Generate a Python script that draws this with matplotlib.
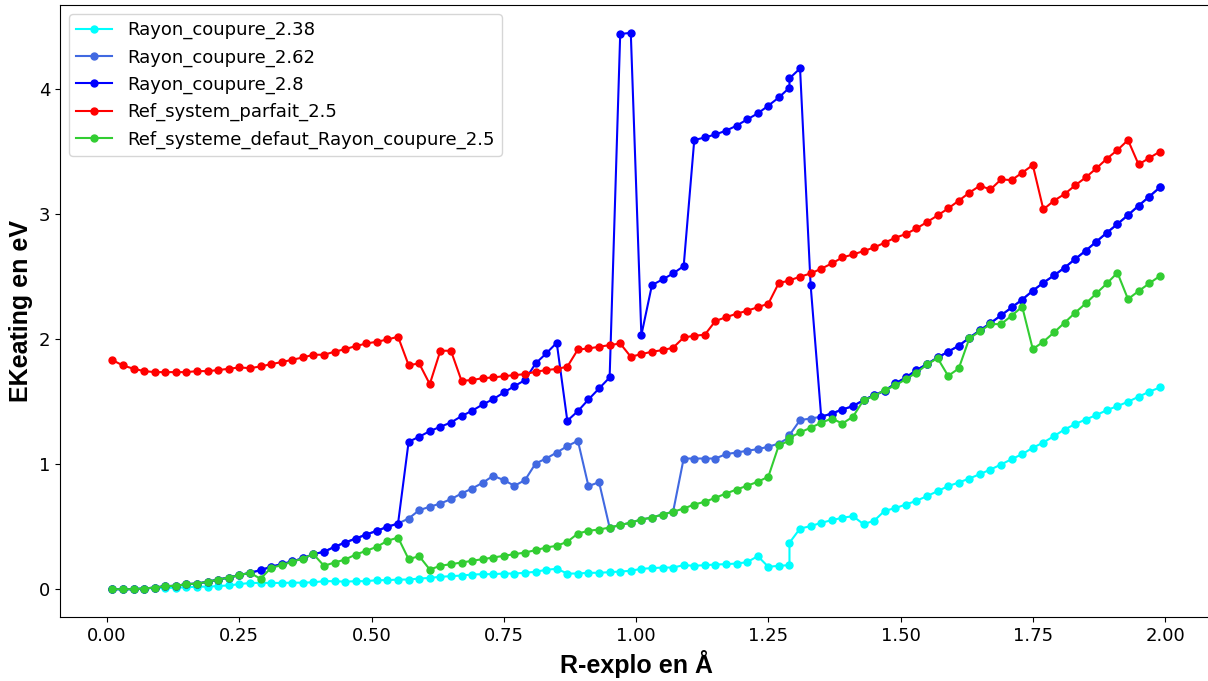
import matplotlib
matplotlib.use("Agg")
import matplotlib.pyplot as plt
import numpy as np

### Data
# R-explo grid (step 0.02, the point at 1.29 appears twice in the source)
r_explo = np.insert(np.round(np.arange(0.01, 2.0, 0.02), 2), 65, 1.29)

rayon_238 = [
    0.0, 0.0, 0.0, 0.005, 0.01, 0.01, 0.012, 0.015, 0.02, 0.02,
    0.025, 0.03, 0.04, 0.05, 0.05, 0.05, 0.05, 0.052, 0.052, 0.055,
    0.064, 0.064, 0.06, 0.064, 0.064, 0.072, 0.072, 0.077, 0.077, 0.085,
    0.09, 0.099, 0.104, 0.109, 0.117, 0.12, 0.12, 0.125, 0.125, 0.131,
    0.139, 0.155, 0.163, 0.125, 0.125, 0.131, 0.131, 0.136, 0.141, 0.147,
    0.163, 0.168, 0.173, 0.173, 0.192, 0.187, 0.192, 0.197, 0.2, 0.205,
    0.216, 0.264, 0.179, 0.187, 0.192,
    0.371,
    0.485, 0.504, 0.531, 0.552, 0.571,
    0.584, 0.52, 0.547, 0.627, 0.648, 0.677, 0.707, 0.744, 0.784, 0.824,
    0.853, 0.885, 0.92, 0.957, 0.997, 1.04, 1.08, 1.131, 1.173, 1.224,
    1.277, 1.32, 1.357, 1.392, 1.432, 1.464, 1.499, 1.539, 1.579, 1.613,
]

rayon_262 = [
    0.0, 0.0, 0.0, 0.005, 0.013, 0.024, 0.027, 0.04, 0.045, 0.059,
    0.077, 0.093, 0.112, 0.131, 0.152, 0.179, 0.2, 0.222, 0.247, 0.28,
    0.299, 0.339, 0.373, 0.405, 0.437, 0.467, 0.499, 0.525, 0.565, 0.632,
    0.659, 0.685, 0.72, 0.765, 0.805, 0.851, 0.907, 0.872, 0.827, 0.872,
    1.005, 1.045, 1.093, 1.144, 1.187, 0.824, 0.856, 0.493, 0.512, 0.533,
    0.557, 0.573, 0.597, 0.619, 1.045, 1.045, 1.045, 1.045, 1.08, 1.093,
    1.107, 1.12, 1.139, 1.165, 1.215,
    1.232,
    1.352, 1.365, 1.379, 1.405, 1.437,
    1.464, 1.512, 1.552, 1.587, 1.645, 1.693, 1.752, 1.8, 1.853, 1.899,
    1.947, 2.01, 2.07, 2.128, 2.19, 2.253, 2.316, 2.387, 2.451, 2.509,
    2.571, 2.64, 2.707, 2.779, 2.851, 2.92, 2.992, 3.067, 3.139, 3.213,
]

rayon_280 = [
    0.0, 0.0, 0.0, 0.005, 0.013, 0.024, 0.027, 0.04, 0.045, 0.059,
    0.077, 0.093, 0.112, 0.131, 0.152, 0.179, 0.2, 0.222, 0.247, 0.28,
    0.299, 0.339, 0.373, 0.405, 0.437, 0.467, 0.499, 0.525, 1.179, 1.219,
    1.264, 1.299, 1.333, 1.384, 1.427, 1.477, 1.52, 1.573, 1.624, 1.672,
    1.805, 1.885, 1.971, 1.347, 1.424, 1.517, 1.605, 1.693, 4.44, 4.45,
    2.032, 2.432, 2.477, 2.525, 2.584, 3.592, 3.613, 3.637, 3.667, 3.707,
    3.757, 3.805, 3.867, 3.933, 4.011,
    4.085,
    4.165, 2.432, 1.379, 1.405, 1.437,
    1.464, 1.512, 1.552, 1.587, 1.645, 1.693, 1.752, 1.8, 1.853, 1.899,
    1.947, 2.01, 2.07, 2.128, 2.19, 2.253, 2.316, 2.387, 2.451, 2.509,
    2.571, 2.64, 2.707, 2.779, 2.851, 2.92, 2.992, 3.067, 3.139, 3.213,
]

ref_parfait = [
    1.832, 1.789, 1.763, 1.744, 1.736, 1.736, 1.736, 1.736, 1.744, 1.744,
    1.752, 1.763, 1.773, 1.768, 1.781, 1.8, 1.816, 1.835, 1.853, 1.875,
    1.875, 1.899, 1.92, 1.944, 1.965, 1.979, 1.997, 2.019, 1.792, 1.805,
    1.64, 1.907, 1.907, 1.667, 1.672, 1.688, 1.693, 1.704, 1.712, 1.72,
    1.739, 1.752, 1.762, 1.779, 1.917, 1.925, 1.939, 1.952, 1.965, 1.859,
    1.88, 1.899, 1.912, 1.931, 2.013, 2.027, 2.035, 2.145, 2.175, 2.203,
    2.227, 2.255, 2.283, 2.45, 2.467,
    2.47,
    2.499, 2.525, 2.563, 2.605, 2.653,
    2.677, 2.704, 2.733, 2.771, 2.811, 2.84, 2.885, 2.936, 2.989, 3.045,
    3.107, 3.171, 3.227, 3.197, 3.277, 3.272, 3.331, 3.392, 3.037, 3.107,
    3.16, 3.229, 3.293, 3.365, 3.443, 3.512, 3.592, 3.397, 3.448, 3.499,
]

ref_defaut = [
    0.0, 0.0, 0.0, 0.005, 0.013, 0.024, 0.027, 0.04, 0.045, 0.059,
    0.077, 0.093, 0.112, 0.131, 0.083, 0.171, 0.192, 0.219, 0.245, 0.28,
    0.187, 0.213, 0.237, 0.277, 0.307, 0.339, 0.387, 0.413, 0.24, 0.264,
    0.157, 0.187, 0.2, 0.213, 0.227, 0.24, 0.253, 0.267, 0.28, 0.293,
    0.312, 0.333, 0.347, 0.379, 0.445, 0.467, 0.477, 0.493, 0.512, 0.533,
    0.557, 0.573, 0.597, 0.619, 0.645, 0.677, 0.699, 0.731, 0.765, 0.797,
    0.827, 0.859, 0.899, 1.152, 1.187,
    1.21,
    1.254, 1.291, 1.331, 1.365, 1.325,
    1.379, 1.512, 1.544, 1.592, 1.629, 1.68, 1.731, 1.797, 1.848, 1.706,
    1.765, 2.005, 2.063, 2.12, 2.12, 2.187, 2.259, 1.92, 1.979, 2.053,
    2.131, 2.211, 2.285, 2.365, 2.445, 2.531, 2.32, 2.384, 2.445, 2.504,
]

series = [
    ("Rayon_coupure_2.38", rayon_238, "cyan"),
    ("Rayon_coupure_2.62", rayon_262, "royalblue"),
    ("Rayon_coupure_2.8", rayon_280, "blue"),
    ("Ref_system_parfait_2.5", ref_parfait, "red"),
    ("Ref_systeme_defaut_Rayon_coupure_2.5", ref_defaut, "limegreen"),
]

### Plot
fig = plt.figure(figsize=(12.08, 6.81), dpi=100)
ax = fig.add_axes([0.0497, 0.094, 0.9537, 0.8987])

for label, values, color in series:
    ax.plot(r_explo, values, marker="o", markersize=5, linewidth=1.5,
            color=color, label=label)

ax.set_xticks([0.0, 0.25, 0.5, 0.75, 1.0, 1.25, 1.5, 1.75, 2.0])
ax.set_yticks([0, 1, 2, 3, 4])
ax.tick_params(labelsize=13)
# axis titles are in an Arial-like bold face
ax.set_xlabel("R-explo en Å", fontsize=18, fontweight="bold",
              family=["Liberation Sans", "DejaVu Sans"])
ax.set_ylabel("EKeating en eV", fontsize=18, fontweight="bold",
              family=["Liberation Sans", "DejaVu Sans"])
ax.legend(loc="upper left", fontsize=13)

fig.savefig("out.png", dpi=100)
